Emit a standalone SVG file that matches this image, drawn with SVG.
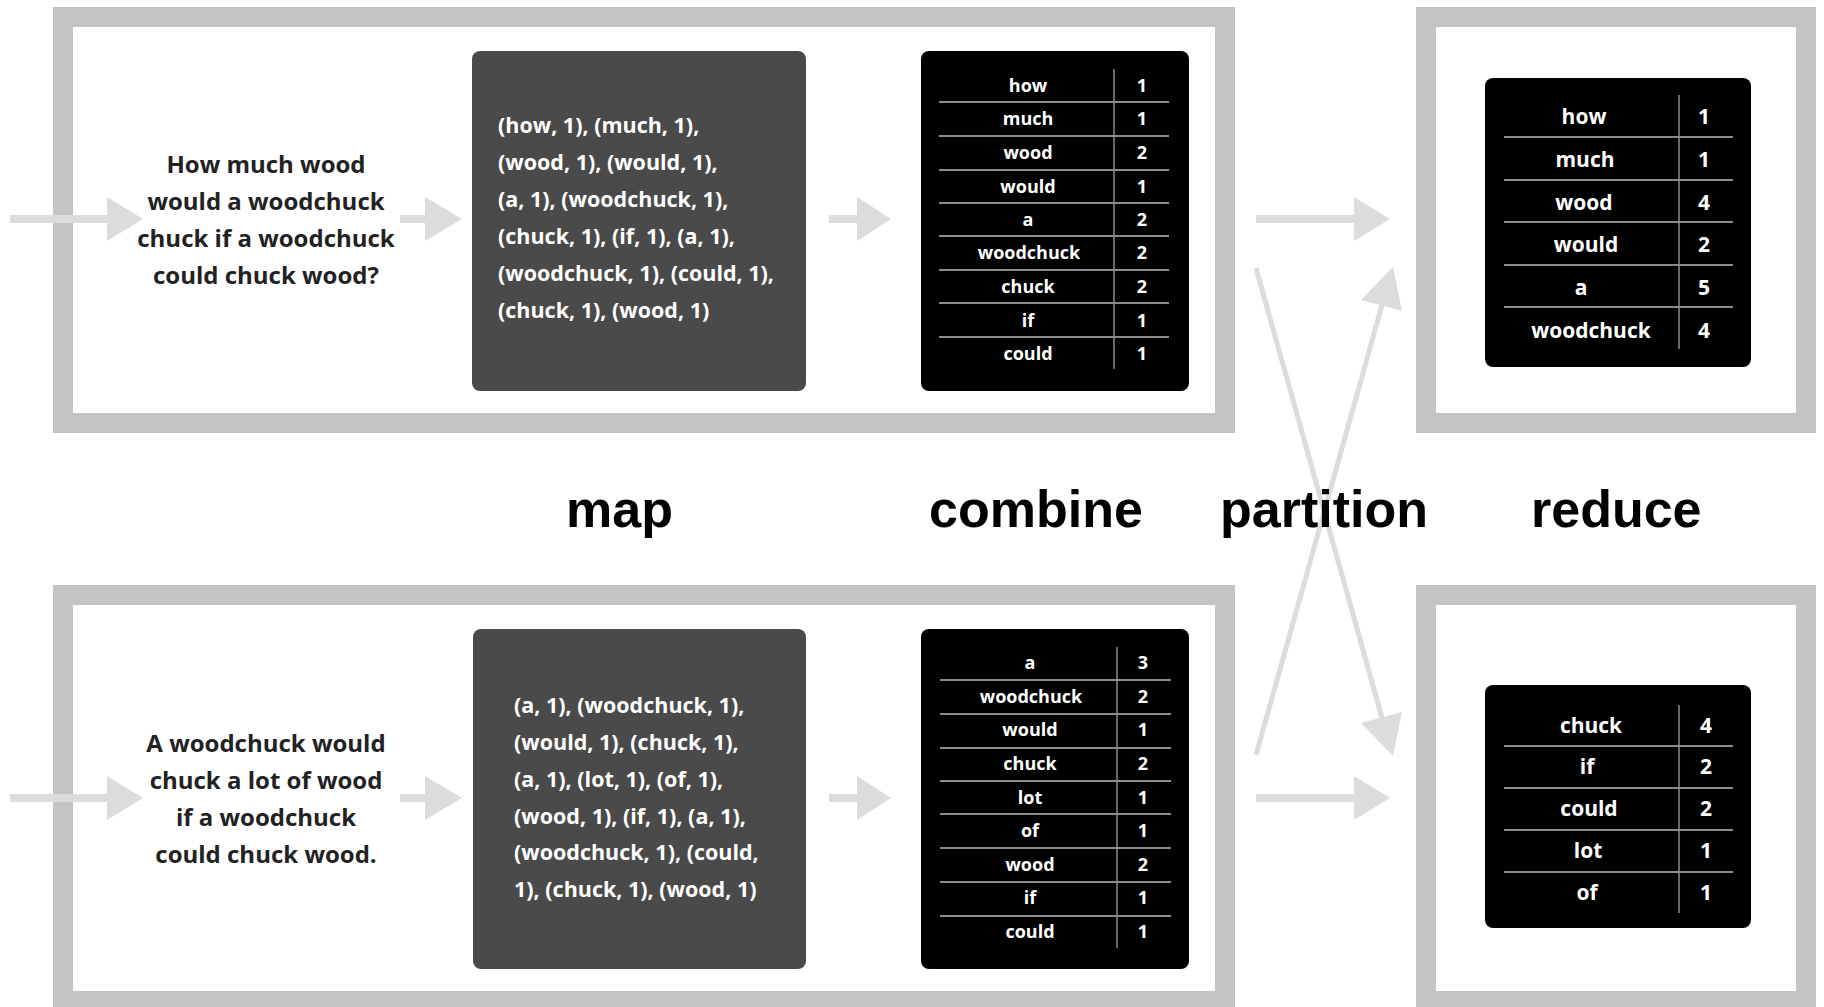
<svg xmlns="http://www.w3.org/2000/svg" width="1824" height="1007" viewBox="0 0 1824 1007">
  <defs>
    <style>
      .frame { fill: none; stroke: #c4c4c4; stroke-width: 20; }
      .mapbox { fill: #4a4a4a; }
      .table { fill: #000; }
      .rule { stroke: #8c8c8c; stroke-width: 2; }
      .div { stroke: #8c8c8c; stroke-width: 1.5; }
      .para { font-family: "Open Sans", "DejaVu Sans", sans-serif; font-weight: 700; font-size: 24px; fill: #222; text-anchor: middle; }
      .pairs { font-family: "Open Sans", "DejaVu Sans", sans-serif; font-weight: 700; font-size: 21.5px; fill: #fff; }
      .cell { font-family: "Open Sans", "DejaVu Sans", sans-serif; font-weight: 700; font-size: 18px; fill: #fff; text-anchor: middle; }
      .rcell { font-family: "Open Sans", "DejaVu Sans", sans-serif; font-weight: 700; font-size: 21px; fill: #fff; text-anchor: middle; }
      .stage { font-family: "Liberation Sans", Arial, sans-serif; font-weight: 700; font-size: 52px; fill: #000; }
      .flow { stroke: #dcdcdc; stroke-width: 8; fill: none; }
      .cross { stroke: #dcdcdc; stroke-width: 5; fill: none; }
      .head { fill: #dcdcdc; }
    </style>
  </defs>

  <!-- outer frames -->
  <g id="frame-top-left"><rect class="frame" x="63" y="17" width="1162" height="406"/></g>
  <g id="frame-top-right"><rect class="frame" x="1426" y="17" width="380" height="406"/></g>
  <g id="frame-bottom-left"><rect class="frame" x="63" y="595" width="1162" height="406"/></g>
  <g id="frame-bottom-right"><rect class="frame" x="1426" y="595" width="380" height="406"/></g>

  <!-- connectors -->
  <g id="connectors">
    <!-- top row -->
    <line class="flow" x1="10" y1="219" x2="110" y2="219"/>
    <polygon class="head" points="107,197 143,219 107,241"/>
    <line class="flow" x1="400" y1="219" x2="428" y2="219"/>
    <polygon class="head" points="425,197 462,219 425,241"/>
    <line class="flow" x1="829" y1="219" x2="860" y2="219"/>
    <polygon class="head" points="857,197 891,219 857,241"/>
    <line class="flow" x1="1256" y1="219" x2="1357" y2="219"/>
    <polygon class="head" points="1354,197 1390,219 1354,241"/>
    <!-- bottom row -->
    <line class="flow" x1="10" y1="798" x2="110" y2="798"/>
    <polygon class="head" points="107,776 143,798 107,820"/>
    <line class="flow" x1="400" y1="798" x2="428" y2="798"/>
    <polygon class="head" points="425,776 462,798 425,820"/>
    <line class="flow" x1="829" y1="798" x2="860" y2="798"/>
    <polygon class="head" points="857,776 891,798 857,820"/>
    <line class="flow" x1="1256" y1="798" x2="1357" y2="798"/>
    <polygon class="head" points="1354,776 1390,798 1354,820"/>
    <!-- partition crossing -->
    <line class="cross" x1="1256" y1="268" x2="1384" y2="725"/>
    <polygon class="head" points="1393,756 1361,723 1402,712"/>
    <line class="cross" x1="1256" y1="755" x2="1384" y2="298"/>
    <polygon class="head" points="1393,267 1402,311 1361,300"/>
  </g>

  <!-- input sentences -->
  <g id="input-top">
    <text class="para" x="266" y="173">How much wood</text>
    <text class="para" x="266" y="210">would a woodchuck</text>
    <text class="para" x="266" y="247">chuck if a woodchuck</text>
    <text class="para" x="266" y="284">could chuck wood?</text>
  </g>
  <g id="input-bottom">
    <text class="para" x="266" y="752">A woodchuck would</text>
    <text class="para" x="266" y="789">chuck a lot of wood</text>
    <text class="para" x="266" y="826">if a woodchuck</text>
    <text class="para" x="266" y="863">could chuck wood.</text>
  </g>

  <!-- map output -->
  <g id="map-top">
    <rect class="mapbox" x="472" y="51" width="334" height="340" rx="8"/>
    <text class="pairs" x="498" y="133">(how, 1), (much, 1),</text>
    <text class="pairs" x="498" y="170">(wood, 1), (would, 1),</text>
    <text class="pairs" x="498" y="207">(a, 1), (woodchuck, 1),</text>
    <text class="pairs" x="498" y="244">(chuck, 1), (if, 1), (a, 1),</text>
    <text class="pairs" x="498" y="281">(woodchuck, 1), (could, 1),</text>
    <text class="pairs" x="498" y="318">(chuck, 1), (wood, 1)</text>
  </g>
  <g id="map-bottom">
    <rect class="mapbox" x="473" y="629" width="333" height="340" rx="8"/>
    <text class="pairs" x="514" y="713">(a, 1), (woodchuck, 1),</text>
    <text class="pairs" x="514" y="750">(would, 1), (chuck, 1),</text>
    <text class="pairs" x="514" y="787">(a, 1), (lot, 1), (of, 1),</text>
    <text class="pairs" x="514" y="824">(wood, 1), (if, 1), (a, 1),</text>
    <text class="pairs" x="514" y="860">(woodchuck, 1), (could,</text>
    <text class="pairs" x="514" y="897">1), (chuck, 1), (wood, 1)</text>
  </g>

  <!-- combine tables -->
  <g id="combine-top">
    <rect class="table" x="921" y="51" width="268" height="340" rx="8"/>
    <line class="div" x1="1114" y1="69" x2="1114" y2="369"/>
    <line class="rule" x1="939" y1="102" x2="1169" y2="102"/>
    <line class="rule" x1="939" y1="136" x2="1169" y2="136"/>
    <line class="rule" x1="939" y1="170" x2="1169" y2="170"/>
    <line class="rule" x1="939" y1="203" x2="1169" y2="203"/>
    <line class="rule" x1="939" y1="236" x2="1169" y2="236"/>
    <line class="rule" x1="939" y1="270" x2="1169" y2="270"/>
    <line class="rule" x1="939" y1="303" x2="1169" y2="303"/>
    <line class="rule" x1="939" y1="337" x2="1169" y2="337"/>
    <text class="cell" x="1028" y="92">how</text><text class="cell" x="1142" y="92">1</text>
    <text class="cell" x="1028" y="125">much</text><text class="cell" x="1142" y="125">1</text>
    <text class="cell" x="1028" y="159">wood</text><text class="cell" x="1142" y="159">2</text>
    <text class="cell" x="1028" y="193">would</text><text class="cell" x="1142" y="193">1</text>
    <text class="cell" x="1028" y="226">a</text><text class="cell" x="1142" y="226">2</text>
    <text class="cell" x="1029" y="259">woodchuck</text><text class="cell" x="1142" y="259">2</text>
    <text class="cell" x="1028" y="293">chuck</text><text class="cell" x="1142" y="293">2</text>
    <text class="cell" x="1028" y="327">if</text><text class="cell" x="1142" y="327">1</text>
    <text class="cell" x="1028" y="360">could</text><text class="cell" x="1142" y="360">1</text>
  </g>
  <g id="combine-bottom">
    <rect class="table" x="921" y="629" width="268" height="340" rx="8"/>
    <line class="div" x1="1117" y1="647" x2="1117" y2="948"/>
    <line class="rule" x1="940" y1="680" x2="1171" y2="680"/>
    <line class="rule" x1="940" y1="714" x2="1171" y2="714"/>
    <line class="rule" x1="940" y1="748" x2="1171" y2="748"/>
    <line class="rule" x1="940" y1="781" x2="1171" y2="781"/>
    <line class="rule" x1="940" y1="814" x2="1171" y2="814"/>
    <line class="rule" x1="940" y1="848" x2="1171" y2="848"/>
    <line class="rule" x1="940" y1="882" x2="1171" y2="882"/>
    <line class="rule" x1="940" y1="916" x2="1171" y2="916"/>
    <text class="cell" x="1030" y="669">a</text><text class="cell" x="1143" y="669">3</text>
    <text class="cell" x="1031" y="703">woodchuck</text><text class="cell" x="1143" y="703">2</text>
    <text class="cell" x="1030" y="736">would</text><text class="cell" x="1143" y="736">1</text>
    <text class="cell" x="1030" y="770">chuck</text><text class="cell" x="1143" y="770">2</text>
    <text class="cell" x="1030" y="804">lot</text><text class="cell" x="1143" y="804">1</text>
    <text class="cell" x="1030" y="837">of</text><text class="cell" x="1143" y="837">1</text>
    <text class="cell" x="1030" y="871">wood</text><text class="cell" x="1143" y="871">2</text>
    <text class="cell" x="1030" y="904">if</text><text class="cell" x="1143" y="904">1</text>
    <text class="cell" x="1030" y="938">could</text><text class="cell" x="1143" y="938">1</text>
  </g>

  <!-- reduce tables -->
  <g id="reduce-top">
    <rect class="table" x="1485" y="78" width="266" height="289" rx="8"/>
    <line class="div" x1="1679" y1="95" x2="1679" y2="349"/>
    <line class="rule" x1="1504" y1="137" x2="1733" y2="137"/>
    <line class="rule" x1="1504" y1="180" x2="1733" y2="180"/>
    <line class="rule" x1="1504" y1="222" x2="1733" y2="222"/>
    <line class="rule" x1="1504" y1="265" x2="1733" y2="265"/>
    <line class="rule" x1="1504" y1="307" x2="1733" y2="307"/>
    <text class="rcell" x="1584" y="124">how</text><text class="rcell" x="1704" y="124">1</text>
    <text class="rcell" x="1585" y="167">much</text><text class="rcell" x="1704" y="167">1</text>
    <text class="rcell" x="1584" y="210">wood</text><text class="rcell" x="1704" y="210">4</text>
    <text class="rcell" x="1586" y="252">would</text><text class="rcell" x="1704" y="252">2</text>
    <text class="rcell" x="1581" y="295">a</text><text class="rcell" x="1704" y="295">5</text>
    <text class="rcell" x="1591" y="338">woodchuck</text><text class="rcell" x="1704" y="338">4</text>
  </g>
  <g id="reduce-bottom">
    <rect class="table" x="1485" y="685" width="266" height="243" rx="8"/>
    <line class="div" x1="1679" y1="705" x2="1679" y2="913"/>
    <line class="rule" x1="1504" y1="746" x2="1733" y2="746"/>
    <line class="rule" x1="1504" y1="788" x2="1733" y2="788"/>
    <line class="rule" x1="1504" y1="830" x2="1733" y2="830"/>
    <line class="rule" x1="1504" y1="872" x2="1733" y2="872"/>
    <text class="rcell" x="1591" y="733">chuck</text><text class="rcell" x="1706" y="733">4</text>
    <text class="rcell" x="1587" y="774">if</text><text class="rcell" x="1706" y="774">2</text>
    <text class="rcell" x="1589" y="816">could</text><text class="rcell" x="1706" y="816">2</text>
    <text class="rcell" x="1588" y="858">lot</text><text class="rcell" x="1706" y="858">1</text>
    <text class="rcell" x="1587" y="900">of</text><text class="rcell" x="1706" y="900">1</text>
  </g>

  <!-- stage labels -->
  <g id="stage-labels">
    <text class="stage" x="566" y="527">map</text>
    <text class="stage" x="929" y="527">combine</text>
    <text class="stage" x="1220" y="527">partition</text>
    <text class="stage" x="1531" y="527">reduce</text>
  </g>
</svg>
